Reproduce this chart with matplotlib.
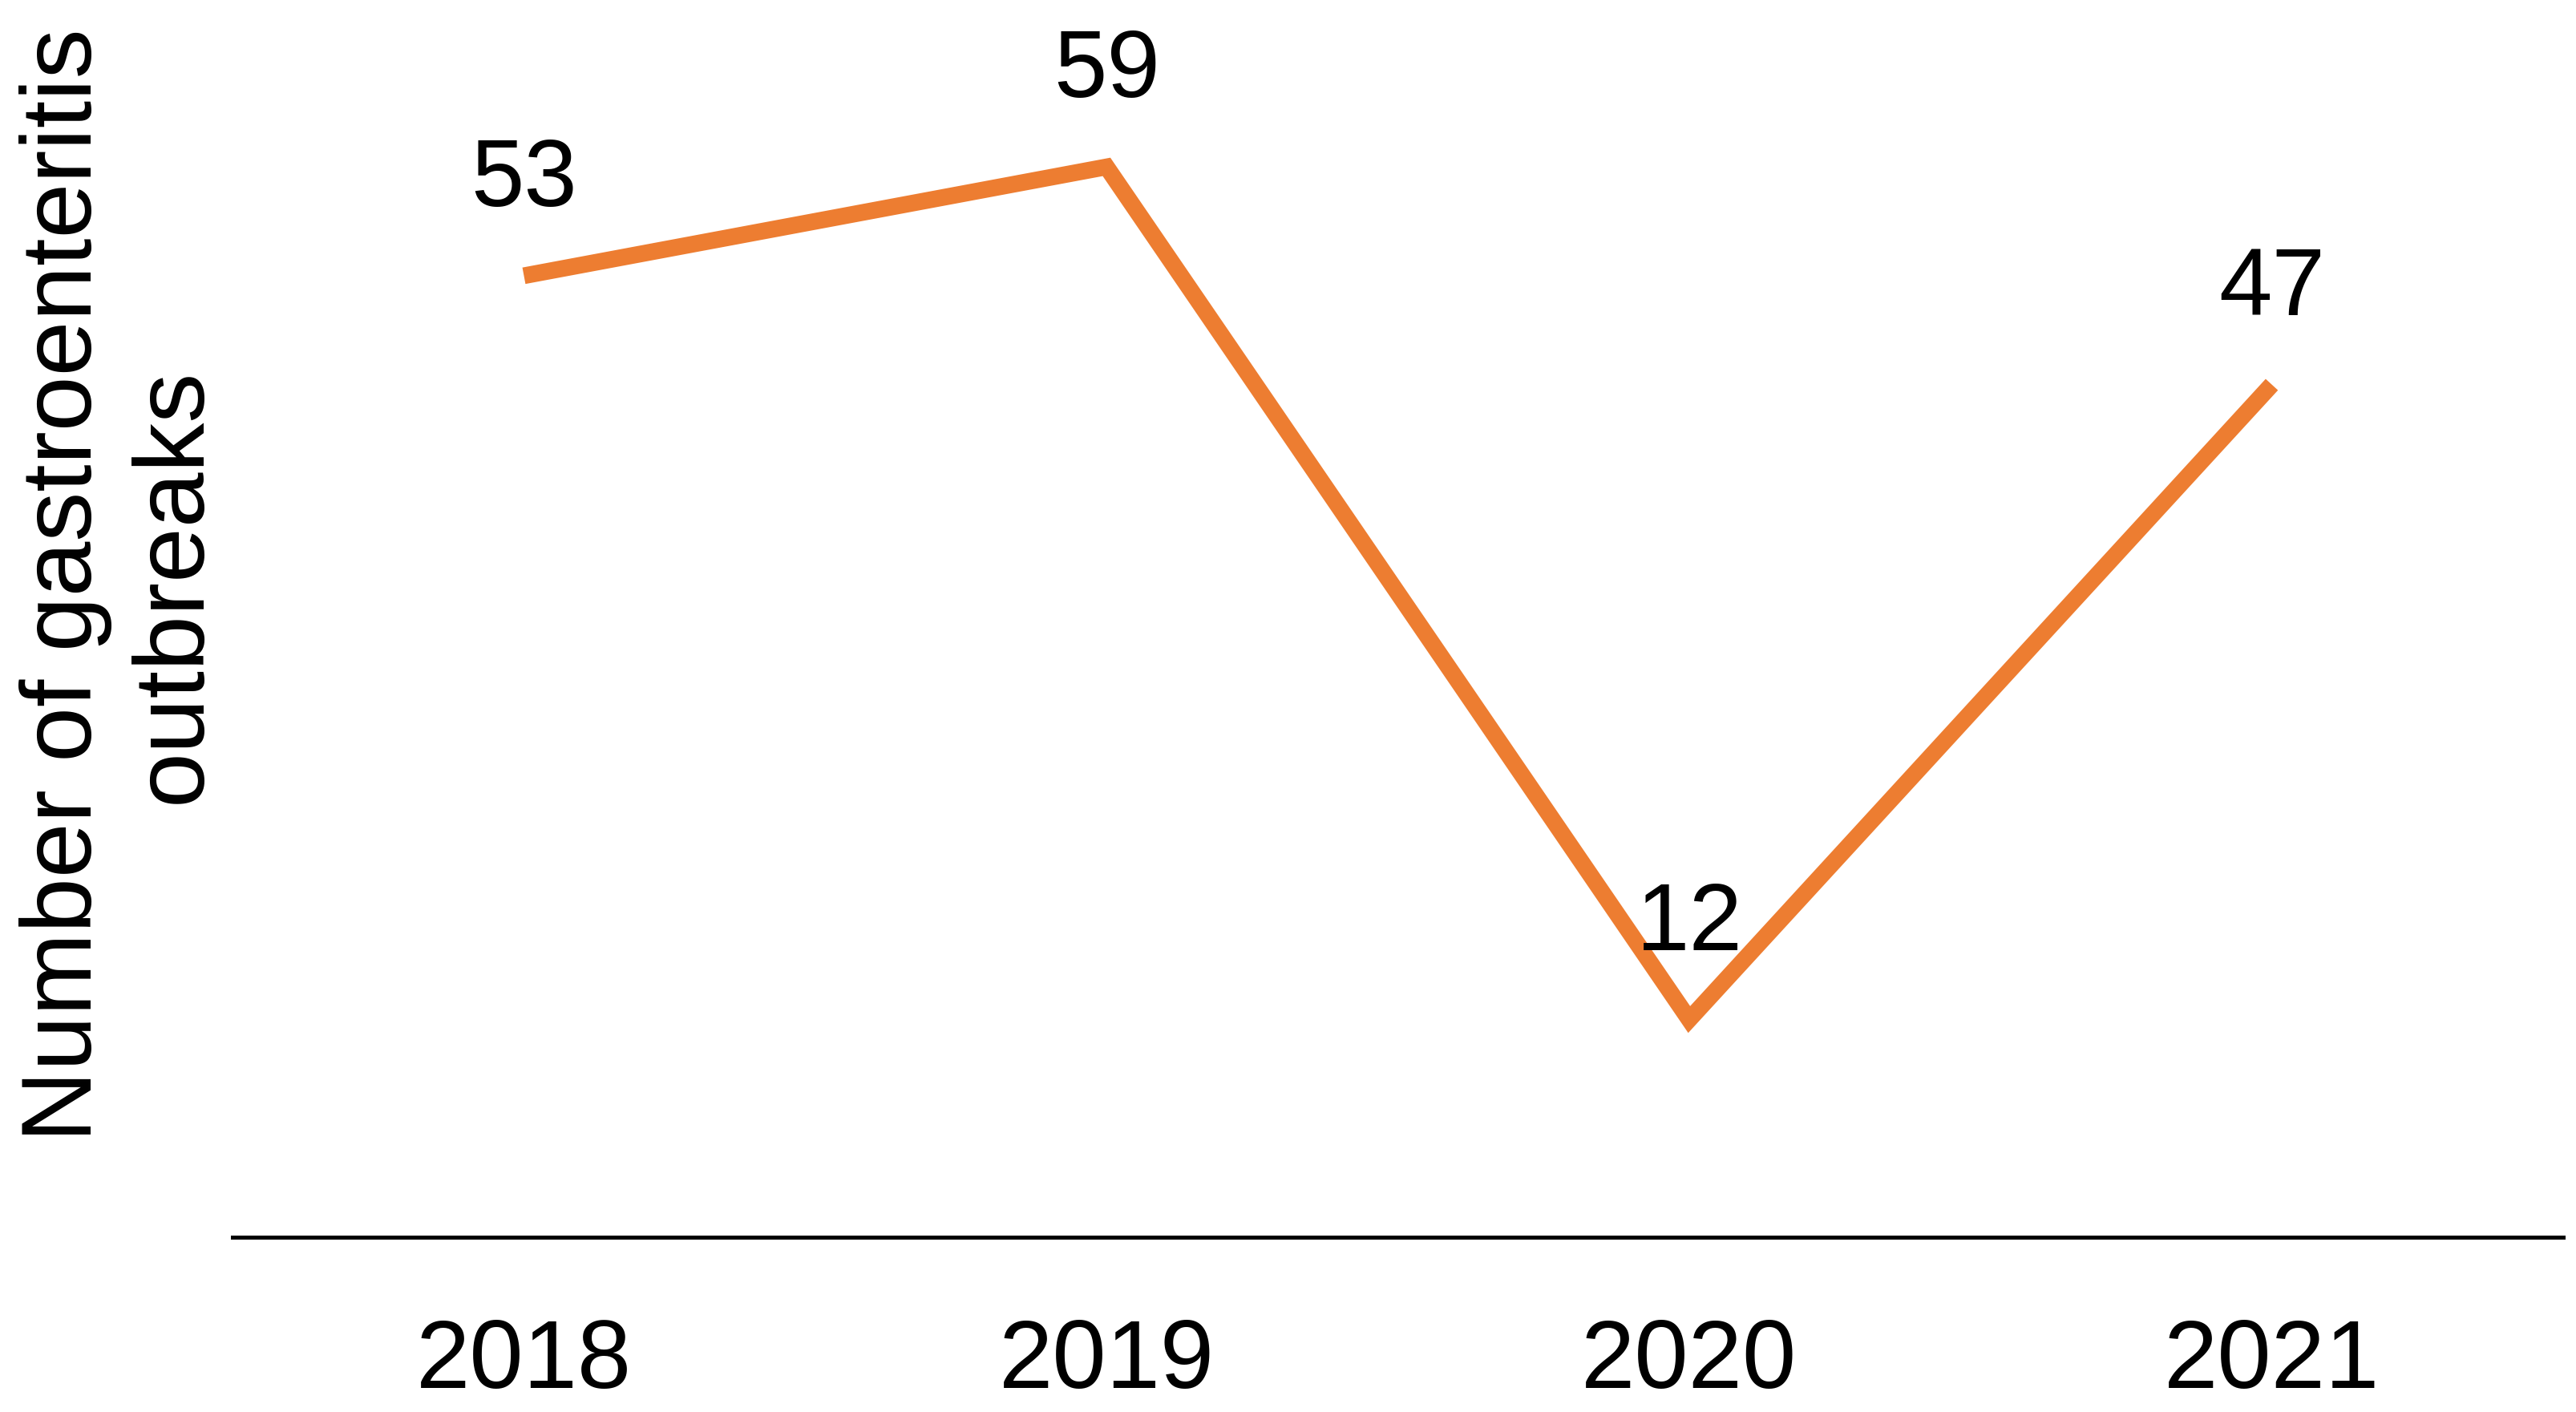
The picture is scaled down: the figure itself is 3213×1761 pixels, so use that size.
import matplotlib
matplotlib.use("Agg")
import matplotlib.pyplot as plt

years = ["2018", "2019", "2020", "2021"]
outbreaks = [53, 59, 12, 47]
ylabel = "Number of gastroenteritis\noutbreaks"

line_color = "#ED7D31"


def main():
    plt.rcParams["font.family"] = ["Liberation Sans", "DejaVu Sans"]

    fig = plt.figure(figsize=(32.13, 17.61), dpi=100)
    ax = fig.add_axes([0.0903, 1 - 1543 / 1761, 0.995 - 0.0903, 1543 / 1761])

    x = list(range(len(years)))
    ax.plot(x, outbreaks, color=line_color, lw=15,
            solid_joinstyle="miter", solid_capstyle="butt")

    for xi, v in zip(x, outbreaks):
        ax.annotate(str(v), (xi, v), xytext=(0, 62.6), textcoords="offset points",
                    ha="center", va="baseline", fontsize=86, color="black")

    ax.set_xlim(-0.5, 3.5)
    ax.set_ylim(0, 68.2)
    ax.set_xticks(x)
    ax.set_xticklabels(years, fontsize=87)
    ax.tick_params(axis="x", length=0, pad=73)
    ax.set_yticks([])

    for s in ["top", "right", "left"]:
        ax.spines[s].set_visible(False)
    ax.spines["bottom"].set_linewidth(3.6)
    ax.spines["bottom"].set_color("black")

    fig.text(0.0465, 0.5855, ylabel, rotation=90, ha="center", va="center",
             fontsize=89, linespacing=1.22, multialignment="center")

    fig.savefig("out.png", dpi=100)


if __name__ == "__main__":
    main()
